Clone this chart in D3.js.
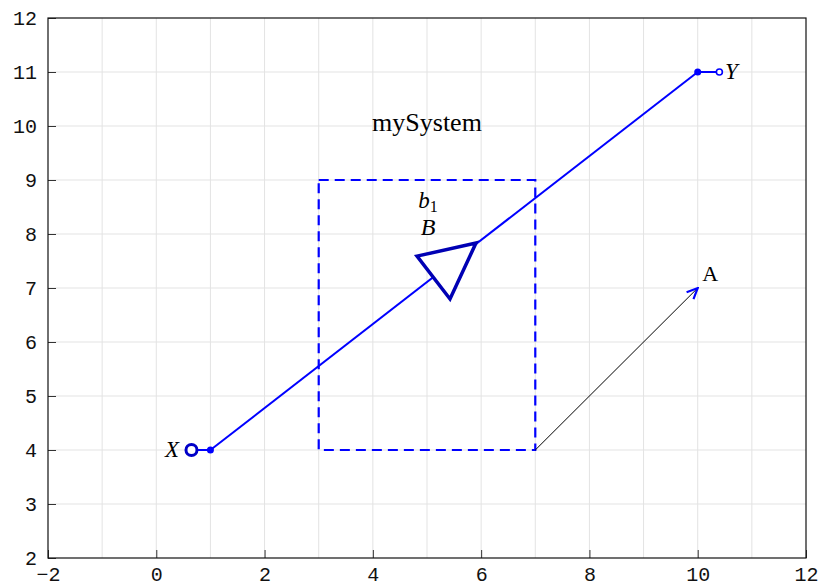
<!DOCTYPE html>
<html><head><meta charset="utf-8">
<script src="https://cdn.jsdelivr.net/npm/d3@7"></script>
<style>body{margin:0;background:#fff}</style>
</head><body>
<svg id="c" width="822" height="586"></svg>
<script>
const xTicks = [-2,0,2,4,6,8,10,12];
const yTicks = [2,3,4,5,6,7,8,9,10,11,12];
const gridX = [-1,0,1,2,3,4,5,6,7,8,9,10,11];
const gridY = [3,4,5,6,7,8,9,10,11];
const pathPts = [[1,4],[10,11]];
const xStub = [[0.65,4],[1,4]];
const yStub = [[10,11],[10.4,11]];
const triangle = [[4.815,7.59],[5.905,7.833],[5.425,6.796]];
const box = [[3,4],[7,9]];
const arrowA = [[7,4],[10,7]];
const labels = [
  {t:"mySystem", x:5.0, y:9.9, italic:false, size:26},
  {t:"A", x:10.23, y:7.13, italic:false, size:22},
  {t:"X", x:0.29, y:3.87, italic:true, size:23},
  {t:"Y", x:10.62, y:10.87, italic:true, size:23},
  {t:"B", x:5.02, y:7.98, italic:true, size:24}
];

const svg = d3.select("#c");
const L=48, R=806, T=18, B=558;
const x = d3.scaleLinear().domain([-2,12]).range([L,R]);
const y = d3.scaleLinear().domain([2,12]).range([B,T]);

// grid
svg.append("g").selectAll("line").data(gridX).join("line")
  .attr("x1",d=>x(d)).attr("x2",d=>x(d)).attr("y1",T).attr("y2",B)
  .attr("stroke","#e3e3e3").attr("stroke-width",1);
svg.append("g").selectAll("line").data(gridY).join("line")
  .attr("y1",d=>y(d)).attr("y2",d=>y(d)).attr("x1",L).attr("x2",R)
  .attr("stroke","#e3e3e3").attr("stroke-width",1);

// axes
const font = "'Liberation Mono', monospace";
const fmt = d => d<0 ? "\u2212" + Math.abs(d) : String(d);
const gx = svg.append("g").attr("transform",`translate(0,${B})`)
  .call(d3.axisBottom(x).tickValues(xTicks).tickSizeInner(-8).tickSizeOuter(0).tickPadding(9).tickFormat(fmt));
const gy = svg.append("g").attr("transform",`translate(${L},0)`)
  .call(d3.axisLeft(y).tickValues(yTicks).tickSizeInner(-8).tickSizeOuter(0).tickPadding(11).tickFormat(fmt));
[gx,gy].forEach(g=>{
  g.select(".domain").remove();
  g.selectAll(".tick line").attr("stroke","#333");
  g.selectAll("text").attr("font-family",font).attr("font-size",20).attr("fill","#111");
});
gx.selectAll("text").attr("dy","0.7em");
svg.append("rect").attr("x",L).attr("y",T).attr("width",R-L).attr("height",B-T)
  .attr("fill","none").attr("stroke","#111").attr("stroke-width",1.2);

const line = d3.line().x(d=>x(d[0])).y(d=>y(d[1]));

// arrowhead marker
const defs = svg.append("defs");
defs.append("marker").attr("id","ah").attr("viewBox","0 0 12 12").attr("refX",11).attr("refY",6)
  .attr("markerWidth",13).attr("markerHeight",13).attr("markerUnits","userSpaceOnUse").attr("orient","auto")
  .append("path").attr("d","M1,1.5 L11,6 L1,10.5").attr("fill","none").attr("stroke","#0000ff").attr("stroke-width",2);

// dashed box
svg.append("rect").attr("x",x(box[0][0])).attr("y",y(box[1][1]))
  .attr("width",x(box[1][0])-x(box[0][0])).attr("height",y(box[0][1])-y(box[1][1]))
  .attr("fill","none").attr("stroke","#0000ff").attr("stroke-width",2.2).attr("stroke-dasharray","10,6");

// arrow A
svg.append("path").attr("d",line(arrowA)).attr("stroke","#000").attr("stroke-width",1).attr("fill","none")
  .attr("marker-end","url(#ah)");

// main path
svg.append("path").attr("d",line(pathPts)).attr("stroke","#0000ff").attr("stroke-width",2).attr("fill","none");
svg.append("path").attr("d",line(xStub)).attr("stroke","#0000ff").attr("stroke-width",2);
svg.append("path").attr("d",line(yStub)).attr("stroke","#0000ff").attr("stroke-width",2);

// triangle
svg.append("path").attr("d",line(triangle)+"Z").attr("fill","#fff").attr("stroke","#0000b4")
  .attr("stroke-width",3.5).attr("stroke-linejoin","miter");

// dots
svg.selectAll(".dot").data(pathPts).join("circle").attr("class","dot")
  .attr("cx",d=>x(d[0])).attr("cy",d=>y(d[1])).attr("r",3.5).attr("fill","#0000ff");
svg.append("circle").attr("cx",x(xStub[0][0])).attr("cy",y(xStub[0][1])).attr("r",5.5)
  .attr("fill","#fff").attr("stroke","#0000c8").attr("stroke-width",3);
svg.append("circle").attr("cx",x(yStub[1][0])).attr("cy",y(yStub[1][1])).attr("r",3)
  .attr("fill","#fff").attr("stroke","#0000ff").attr("stroke-width",1.6);

// labels
const serif = "'Liberation Serif', 'DejaVu Serif', serif";
svg.selectAll(".lbl").data(labels).join("text").attr("class","lbl")
  .attr("x",d=>x(d.x)).attr("y",d=>y(d.y)).attr("text-anchor","middle")
  .attr("font-family",serif).attr("font-size",d=>d.size).attr("font-style",d=>d.italic?"italic":"normal")
  .attr("fill","#000").text(d=>d.t);
const b1 = svg.append("text").attr("x",x(5.02)).attr("y",y(8.48)).attr("text-anchor","middle")
  .attr("font-family",serif).attr("font-size",23).attr("fill","#000");
b1.append("tspan").attr("font-style","italic").text("b");
b1.append("tspan").attr("font-size",16).attr("dy",4).text("1");
</script>
</body></html>
